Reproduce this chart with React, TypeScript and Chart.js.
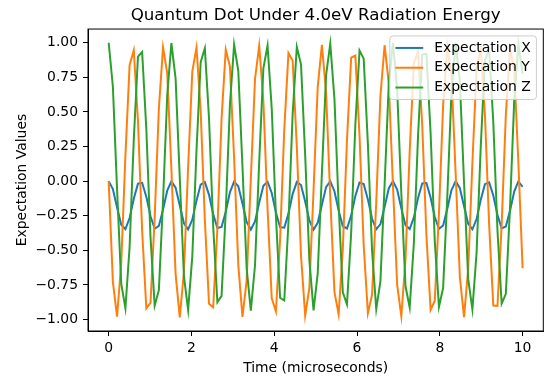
import { useEffect, useRef } from 'react';
import { Chart, registerables } from 'chart.js';

Chart.register(...registerables);

const TIME = [
  0, 0.101, 0.202, 0.303, 0.404, 0.505, 0.606, 0.707, 0.808, 0.909,
  1.010, 1.111, 1.212, 1.313, 1.414, 1.515, 1.616, 1.717, 1.818, 1.919,
  2.020, 2.121, 2.222, 2.323, 2.424, 2.525, 2.626, 2.727, 2.828, 2.929,
  3.030, 3.131, 3.232, 3.333, 3.434, 3.535, 3.636, 3.737, 3.838, 3.939,
  4.040, 4.141, 4.242, 4.343, 4.444, 4.545, 4.646, 4.747, 4.848, 4.949,
  5.050, 5.151, 5.252, 5.353, 5.454, 5.555, 5.656, 5.757, 5.858, 5.959,
  6.060, 6.161, 6.262, 6.363, 6.464, 6.565, 6.666, 6.767, 6.868, 6.969,
  7.070, 7.171, 7.272, 7.373, 7.474, 7.575, 7.676, 7.777, 7.878, 7.979,
  8.080, 8.181, 8.282, 8.383, 8.484, 8.585, 8.686, 8.787, 8.888, 8.989,
  9.090, 9.191, 9.292, 9.393, 9.494, 9.595, 9.696, 9.797, 9.898, 10,
];

const EXP_X = [
  0, -0.057, -0.191, -0.315, -0.347, -0.267, -0.127, -0.018, -0.012, -0.112,
  -0.254, -0.344, -0.323, -0.206, -0.069, -0.001, -0.047, -0.176, -0.305, -0.349,
  -0.279, -0.141, -0.025, -0.007, -0.099, -0.240, -0.339, -0.331, -0.221, -0.081,
  -0.003, -0.037, -0.162, -0.295, -0.350, -0.291, -0.156, -0.033, -0.004, -0.086,
  -0.226, -0.333, -0.337, -0.235, -0.094, -0.006, -0.028, -0.147, -0.284, -0.350,
  -0.301, -0.171, -0.043, -0.001, -0.073, -0.212, -0.326, -0.342, -0.249, -0.107,
  -0.010, -0.021, -0.132, -0.272, -0.348, -0.311, -0.186, -0.053, 0.000, -0.061,
  -0.197, -0.318, -0.346, -0.262, -0.121, -0.016, -0.014, -0.118, -0.259, -0.345,
  -0.320, -0.200, -0.064, 0.000, -0.051, -0.182, -0.309, -0.348, -0.274, -0.135,
  -0.022, -0.009, -0.104, -0.245, -0.341, -0.328, -0.215, -0.076, -0.002, -0.041,
];

const EXP_Y = [
  0, -0.728, -0.980, -0.592, 0.183, 0.838, 0.946, 0.436, -0.359, -0.919,
  -0.879, -0.264, 0.523, 0.968, 0.781, 0.084, -0.668, -0.984, -0.657, 0.100,
  0.791, 0.965, 0.509, -0.280, -0.886, -0.913, -0.344, 0.450, 0.950, 0.829,
  0.167, -0.605, -0.981, -0.717, 0.016, 0.738, 0.978, 0.579, -0.198, -0.846,
  -0.941, -0.421, 0.374, 0.925, 0.871, 0.249, -0.536, -0.971, -0.771, -0.068,
  0.680, 0.984, 0.644, -0.116, -0.800, -0.962, -0.495, 0.295, 0.893, 0.907,
  0.329, -0.464, -0.954, -0.821, -0.151, 0.617, 0.982, 0.705, -0.032, -0.749,
  -0.976, -0.566, 0.214, 0.854, 0.936, 0.406, -0.389, -0.930, -0.864, -0.233,
  0.550, 0.974, 0.761, 0.051, -0.692, -0.983, -0.632, 0.132, 0.810, 0.959,
  0.481, -0.311, -0.899, -0.901, -0.314, 0.479, 0.958, 0.811, 0.135, -0.630,
];

const EXP_Z = [
  1.000, 0.684, -0.058, -0.741, -0.919, -0.476, 0.300, 0.900, 0.933, 0.378,
  -0.404, -0.900, -0.788, -0.140, 0.621, 0.997, 0.742, 0.024, -0.689, -0.931,
  -0.544, 0.219, 0.860, 0.960, 0.453, -0.329, -0.875, -0.829, -0.220, 0.553,
  0.986, 0.796, 0.106, -0.631, -0.936, -0.608, 0.138, 0.815, 0.980, 0.526,
  -0.251, -0.843, -0.863, -0.299, 0.482, 0.969, 0.844, 0.188, -0.569, -0.934,
  -0.667, 0.056, 0.764, 0.993, 0.595, -0.171, -0.804, -0.891, -0.375, 0.407,
  0.944, 0.885, 0.269, -0.502, -0.925, -0.722, -0.027, 0.707, 1.000, 0.660,
  -0.090, -0.760, -0.913, -0.448, 0.330, 0.914, 0.921, 0.348, -0.432, -0.909,
  -0.771, -0.109, 0.645, 0.999, 0.720, -0.008, -0.710, -0.927, -0.518, 0.251,
  0.876, 0.951, 0.425, -0.358, -0.886, -0.814, -0.190, 0.580, 0.991, 0.776,
];

const X_TICKS = [0, 2, 4, 6, 8, 10];
const Y_TICKS = [-1, -0.75, -0.5, -0.25, 0, 0.25, 0.5, 0.75, 1];
const SERIES_LABELS = ['Expectation X', 'Expectation Y', 'Expectation Z'];
const SERIES_COLORS = ['#1f77b4', '#ff7f0e', '#2ca02c'];
const TITLE = 'Quantum Dot Under 4.0eV Radiation Energy';
const X_TITLE = 'Time (microseconds)';
const Y_TITLE = 'Expectation Values';

const FONT = '"DejaVu Sans", sans-serif';
const TICK_SIZE = 13.9;

const frameAndLegend = {
  id: 'frameAndLegend',
  afterDatasetsDraw(chart: any) {
    const { ctx, chartArea: a } = chart;
    ctx.save();
    ctx.strokeStyle = '#000';
    ctx.lineWidth = 1;
    ctx.strokeRect(a.left, a.top, a.right - a.left, a.bottom - a.top);

    const fs = TICK_SIZE;
    ctx.font = `${fs}px ${FONT}`;
    const ds = chart.data.datasets;
    const textW = Math.max(...ds.map((d: any) => ctx.measureText(d.label).width));
    const pad = 5.6, hl = 27.8, hp = 11.1, ax = 6.9, rowGap = 19.8, firstRow = 12;
    const w = pad + hl + hp + textW + pad;
    const h = firstRow * 2 + rowGap * (ds.length - 1);
    const x0 = a.right - ax - w;
    const y0 = a.top + ax;
    ctx.beginPath();
    ctx.roundRect(x0, y0, w, h, 3);
    ctx.fillStyle = 'rgba(255,255,255,0.8)';
    ctx.fill();
    ctx.strokeStyle = '#cccccc';
    ctx.lineWidth = 1;
    ctx.stroke();
    ds.forEach((d: any, i: number) => {
      const y = y0 + firstRow + i * rowGap;
      ctx.beginPath();
      ctx.moveTo(x0 + pad, y);
      ctx.lineTo(x0 + pad + hl, y);
      ctx.strokeStyle = d.borderColor;
      ctx.lineWidth = 2;
      ctx.stroke();
      ctx.fillStyle = '#000';
      ctx.textAlign = 'left';
      ctx.textBaseline = 'middle';
      ctx.fillText(d.label, x0 + pad + hl + hp, y);
    });
    ctx.restore();
  },
};

export default function App() {
  const ref = useRef<HTMLCanvasElement>(null);
  useEffect(() => {
    const series = [EXP_X, EXP_Y, EXP_Z];
    const chart = new Chart(ref.current as HTMLCanvasElement, {
      type: 'line',
      data: {
        datasets: series.map((vals, k) => ({
          label: SERIES_LABELS[k],
          data: TIME.map((t, i) => ({ x: t, y: vals[i] })),
          borderColor: SERIES_COLORS[k],
          backgroundColor: SERIES_COLORS[k],
          borderWidth: 2,
          pointRadius: 0,
          tension: 0,
          fill: false,
          order: 3 - k,
        })),
      },
      options: {
        animation: false,
        responsive: true,
        maintainAspectRatio: false,
        devicePixelRatio: 1,
        events: [],
        layout: { padding: { left: 0, right: 7.7, top: 0, bottom: 0 } },
        plugins: {
          legend: { display: false },
          tooltip: { enabled: false },
          title: {
            display: true,
            fullSize: false,
            text: TITLE,
            color: '#000',
            font: { family: FONT, size: 16.7, weight: 'normal', lineHeight: 1.2 },
            padding: { top: 5.5, bottom: 3.5 },
          },
        },
        scales: {
          x: {
            type: 'linear',
            min: -0.5,
            max: 10.5,
            afterBuildTicks: (s: any) => {
              s.ticks = X_TICKS.map((v) => ({ value: v }));
            },
            afterFit: (s: any) => {
              s.height = 47;
            },
            grid: { drawOnChartArea: false, drawTicks: true, tickLength: 5, color: '#000', lineWidth: 1 },
            border: { display: true, color: '#000', width: 1 },
            ticks: {
              color: '#000',
              font: { family: FONT, size: TICK_SIZE },
              padding: 4,
              autoSkip: false,
              maxRotation: 0,
              callback: (v: any) => String(v),
            },
            title: {
              display: true,
              text: X_TITLE,
              color: '#000',
              font: { family: FONT, size: TICK_SIZE, lineHeight: 1.2 },
              padding: { top: 0, bottom: 1 },
            },
          },
          y: {
            type: 'linear',
            min: -1.083,
            max: 1.099,
            afterBuildTicks: (s: any) => {
              s.ticks = Y_TICKS.map((v) => ({ value: v }));
            },
            afterFit: (s: any) => {
              s.width = 88;
            },
            grid: { drawOnChartArea: false, drawTicks: true, tickLength: 5, color: '#000', lineWidth: 1 },
            border: { display: true, color: '#000', width: 1 },
            ticks: {
              color: '#000',
              font: { family: FONT, size: TICK_SIZE },
              padding: 5,
              autoSkip: false,
              callback: (v: any) => Number(v).toFixed(2).replace('-', '\u2212'),
            },
            title: {
              display: true,
              text: Y_TITLE,
              color: '#000',
              font: { family: FONT, size: TICK_SIZE, lineHeight: 1.2 },
              padding: { top: 13.7, bottom: 0 },
            },
          },
        },
      },
      plugins: [frameAndLegend],
    } as any);
    return () => chart.destroy();
  }, []);
  return (
    <div style={{ position: 'fixed', left: 0, top: 0, width: 551, height: 378, background: '#fff' }}>
      <canvas ref={ref} />
    </div>
  );
}
